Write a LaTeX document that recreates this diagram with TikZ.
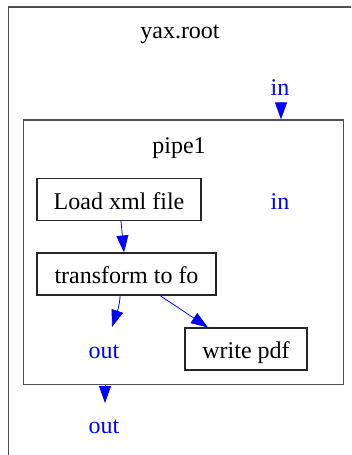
\documentclass[tikz,border=0pt]{standalone}
\usepackage{fontspec}
\setmainfont{Liberation Serif}
\usetikzlibrary{arrows.meta,calc}

\definecolor{framegray}{HTML}{505050}

\tikzset{
  every node/.style={font=\fontsize{24}{28}\selectfont},
  stepbox/.style={draw=black!85, line width=1.1pt, minimum height=42pt,
                  text height=19pt, text depth=0pt, inner sep=0pt},
  cluster/.style={draw=framegray, line width=1.3pt, inner sep=0pt},
  port/.style={text=blue, inner sep=0pt, anchor=base},
  title/.style={inner sep=0pt, anchor=base},
  flow/.style={draw=blue, line width=0.8pt, -{Triangle[length=17pt,width=12pt]}},
}

\begin{document}
\begin{tikzpicture}[x=1pt,y=-1pt]
  \useasboundingbox (0,0) rectangle (351,455);
  \fill[white] (0,0) rectangle (351,455);
  \clip (0,0) rectangle (351,455);

  % outer cluster yax.root (runs past the right and lower edges)
  \draw[framegray, line width=1.3pt] (8.5,7) rectangle (420,520);
  \node[title] (rootlabel) at (180,38) {yax.root};
  \node[port] (rootin) at (280,95) {in};
  \node[port] (rootout) at (104,433) {out};

  % inner cluster pipe1
  \node[cluster, minimum width=320.4pt, minimum height=264.5pt] (pipebox) at (183.5,252.25) {};
  \node[title] (pipelabel) at (179,153) {pipe1};
  \node[port] (pipein) at (280,209) {in};
  \node[port] (pipeout) at (104,358) {out};

  % processing steps
  \node[stepbox, minimum width=164pt] (load) at (119,199.5) {Load xml file};
  \node[stepbox, minimum width=179pt] (trans) at (126.5,274) {transform to fo};
  \node[stepbox, minimum width=122pt] (write) at (246,349) {write pdf};

  % connectors
  \draw[flow] ($(rootin.base)+(1,7)$) -- ($(rootin |- pipebox.north)+(1,0)$);
  \draw[flow] ([xshift=2pt]load.south) -- ([xshift=-2.5pt]trans.north);
  \draw[flow] ([xshift=-6.5pt]trans.south)
      .. controls +(0,10) and +(4,-12) .. ($(pipeout.base)+(8,-31)$);
  \draw[flow] ([xshift=33.5pt]trans.south) -- ([xshift=-38pt]write.north);
  \draw[flow] ($(rootout |- pipebox.south)+(1,0)$) -- ($(rootout.base)+(1,-30)$);
\end{tikzpicture}
\end{document}
